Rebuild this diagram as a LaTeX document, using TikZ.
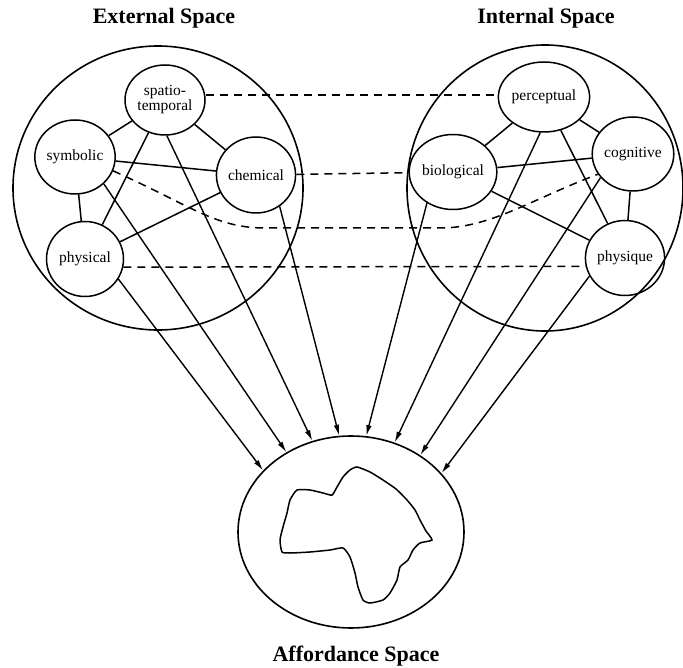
\documentclass[tikz,border=0pt]{standalone}
\usepackage{fontspec}
\setmainfont{Liberation Serif}
\usetikzlibrary{shapes.geometric,arrows.meta}
\begin{document}
\begin{tikzpicture}[x=1pt,y=-1pt,
  bigspace/.style={draw, ellipse, line width=1.6pt, inner sep=0pt},
  facet/.style={draw, ellipse, line width=1.5pt, inner sep=0pt, align=center,
    font=\fontsize{15.5}{15}\selectfont},
  link/.style={line width=1.5pt},
  dlink/.style={line width=1.5pt, dash pattern=on 8pt off 6pt},
  feed/.style={line width=1.4pt, -{Latex[length=11pt,width=5.5pt]}},
  title/.style={font=\fontsize{22}{24}\selectfont\bfseries},
  blob/.style={line width=1.5pt}]
\useasboundingbox (0,0) rectangle (683,668);

% big spaces
\node[bigspace, minimum width=290pt, minimum height=284pt] (ext) at (158,188) {};
\node[bigspace, minimum width=276pt, minimum height=286pt] (int) at (545,188) {};
\node[bigspace, minimum width=226pt, minimum height=192pt] (aff) at (351,532) {};

% titles
\node[title] (extT) at (164,18) {External Space};
\node[title] (intT) at (546,18) {Internal Space};
\node[title] (affT) at (356,656) {Affordance Space};

% external facets
\node[facet, minimum width=80pt, minimum height=70pt] (spatio) at (165,100) {spatio-\\temporal};
\node[facet, minimum width=76pt, minimum height=74pt] (symbolic) at (75,157) {symbolic};
\node[facet, minimum width=75pt, minimum height=76pt] (chemical) at (256,175) {chemical};
\node[facet, minimum width=77pt, minimum height=75pt] (physical) at (85,259) {physical};

% internal facets
\node[facet, minimum width=82pt, minimum height=70pt] (perceptual) at (544,97) {perceptual};
\node[facet, minimum width=73pt, minimum height=75pt] (biological) at (453,172) {biological};
\node[facet, minimum width=77pt, minimum height=74pt] (cognitive) at (633,154) {cognitive};
\node[facet, minimum width=76pt, minimum height=75pt] (physique) at (625,258) {physique};

% external links
\draw[link] (spatio) -- (symbolic);
\draw[link] (spatio) -- (chemical);
\draw[link] (spatio) -- (physical);
\draw[link] (symbolic) -- (chemical);
\draw[link] (symbolic) -- (physical);
\draw[link] (chemical) -- (physical);

% internal links
\draw[link] (perceptual) -- (biological);
\draw[link] (perceptual) -- (cognitive);
\draw[link] (perceptual) -- (physique);
\draw[link] (biological) -- (cognitive);
\draw[link] (biological) -- (physique);
\draw[link] (cognitive) -- (physique);

% dashed correspondences
\draw[dlink] (spatio.east |- 0,95) -- (perceptual.west |- 0,95);
\draw[dlink] (chemical) -- (biological);
\draw[dlink] (physical.-12) -- (physique.192);
\coordinate (dl) at (265,228);
\coordinate (dr) at (440,228);
\draw[dlink] (symbolic.-20) .. controls (190,205) and (215,228) .. (dl)
  -- (dr) .. controls (490,228) and (530,200) .. (cognitive.210);

% feeds into affordance space
\draw[feed] (physical.-31) -- (aff.145);
\draw[feed] (symbolic.-43) -- (aff.129.5);
\draw[feed] (spatio.-87) -- (aff.113);
\draw[feed] (chemical.-53) -- (aff.97.6);
\draw[feed] (biological.230) -- (aff.81);
\draw[feed] (perceptual.264) -- (aff.64);
\draw[feed] (cognitive.216) -- (aff.48.7);
\draw[feed] (physique.207) -- (aff.33.4);

% affordance region blob
\draw[blob] plot[smooth cycle, tension=0.35] coordinates {
  (357,467) (370,472) (383,480) (396,489) (407,500) (415,510) (420,520) (426,531)
  (432,540) (420,543) (413,550) (408,560) (400,567) (397,580) (390,593)
  (383,600) (370,603) (363,600) (358,587) (355,573) (350,557) (343,548)
  (330,550) (310,552) (290,553) (282,552) (280,540) (283,527) (287,513)
  (290,500) (297,490) (310,490) (323,493) (332,495) (337,487) (343,477)
  (350,470)};
\end{tikzpicture}
\end{document}
